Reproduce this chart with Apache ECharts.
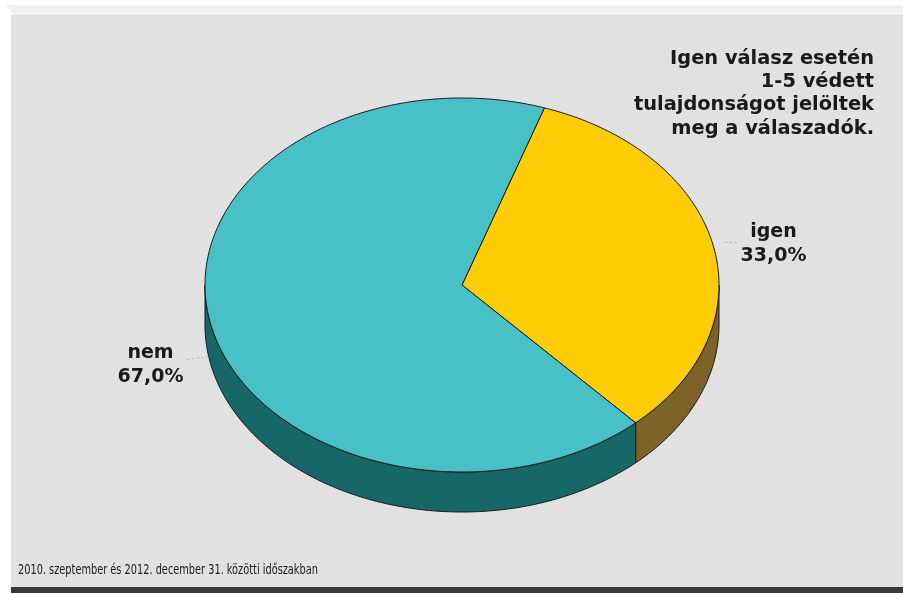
<!DOCTYPE html>
<html>
<head>
<meta charset="utf-8">
<script src="https://cdn.jsdelivr.net/npm/echarts@6/dist/echarts.min.js"></script>
<style>
  html, body { margin: 0; padding: 0; background: #ffffff; }
  #chart { width: 903px; height: 593px; }
</style>
</head>
<body>
<div id="chart"></div>
<script>
// Answer categories and their shares (%)
const categories = ['igen', 'nem'];
const shares = [33.0, 67.0];
// Colours of the top faces and the darker side walls
const topColors = ['#ffcc05', '#47c1c5'];
const sideColors = ['#7c6328', '#156768'];
// Note in the upper right corner and the period caption
const noteLines = ['Igen válasz esetén', '1-5 védett', 'tulajdonságot jelöltek', 'meg a válaszadók.'];
const caption = '2010. szeptember és 2012. december 31. közötti időszakban';

// Geometry of the tilted pie
const CX = 462, CY = 285, RX = 257, RY = 187, DEPTH = 40;
const START_ANGLE = 71.3; // degrees, slices run clockwise from here
// Label offsets from the rim point at each slice's middle angle
const labelOffsets = [[60, -2], [-60, 42]];

const total = shares.reduce((a, b) => a + b, 0);
const starts = [];
let acc = START_ANGLE;
shares.forEach(v => { starts.push(acc); acc -= v / total * 360; });

function rim(tDeg, dy) {
  const t = tDeg * Math.PI / 180;
  return [CX + RX * Math.cos(t), CY - RY * Math.sin(t) + (dy || 0)];
}
function arc(from, to, dy) {
  const pts = [];
  const n = Math.max(2, Math.ceil(Math.abs(from - to) / 1));
  for (let i = 0; i <= n; i++) pts.push(rim(from + (to - from) * i / n, dy));
  return pts;
}
function fmt(v) { return v.toFixed(1).replace('.', ',') + '%'; }

function renderItem(params, api) {
  const i = params.dataIndex;
  const value = api.value(0);
  const a1 = starts[i];
  const a2 = a1 - value / total * 360;
  const children = [];

  // Side wall: the part of the slice that faces the viewer (lower half)
  for (let k = -1; k <= 1; k++) {
    const lo = -180 + 360 * k, hi = 360 * k;
    const s = Math.min(a1, hi), e = Math.max(a2, lo);
    if (s > e) {
      const top = arc(s, e, 0);
      const bottom = arc(e, s, DEPTH);
      children.push({
        type: 'polygon', z2: 1,
        shape: { points: top.concat(bottom) },
        style: { fill: sideColors[i], stroke: '#1b1b1b', lineWidth: 1 }
      });
    }
  }

  // Top face
  children.push({
    type: 'polygon', z2: 5,
    shape: { points: [[CX, CY]].concat(arc(a1, a2, 0)) },
    style: { fill: topColors[i], stroke: '#1b1b1b', lineWidth: 1 }
  });

  // Label with a faint leader line
  const mid = (a1 + a2) / 2;
  const p = rim(mid, 0);
  const off = labelOffsets[i];
  const lx = p[0] + off[0], ly = p[1] + off[1];
  const dir = off[0] > 0 ? -1 : 1;
  const lineStart = [lx + dir * 36, ly + (i === 0 ? -2 : -6)];
  const lineEnd = [lineStart[0] + dir * (i === 0 ? 14 : 22), lineStart[1] + (i === 0 ? 0 : -3)];
  children.push({
    type: 'line', z2: 3,
    shape: { x1: lineStart[0], y1: lineStart[1], x2: lineEnd[0], y2: lineEnd[1] },
    style: { stroke: 'rgba(120,170,200,0.55)', lineWidth: 1, lineDash: [3, 2] }
  });
  children.push({
    type: 'text', z2: 6,
    style: {
      text: categories[i] + '\n' + fmt(value),
      x: lx, y: ly,
      align: 'center', verticalAlign: 'middle',
      font: 'bold 19px "DejaVu Sans", Verdana, sans-serif',
      lineHeight: 24,
      fill: '#1a1a1a'
    }
  });

  return { type: 'group', children: children };
}

const chart = echarts.init(document.getElementById('chart'), null, { renderer: 'canvas' });
chart.setOption({
  animation: false,
  backgroundColor: '#ffffff',
  graphic: [
    // light bevel strip along the top
    { type: 'polygon', z: -10, shape: { points: [[6, 5], [903, 5], [903, 15], [14, 15]] },
      style: { fill: '#eef1f1' } },
    // grey panel
    { type: 'rect', z: -10, shape: { x: 11, y: 15, width: 892, height: 573 },
      style: { fill: '#e1e1e1' } },
    // dark strip along the bottom
    { type: 'rect', z: -10, shape: { x: 11, y: 587, width: 892, height: 6 },
      style: { fill: '#3a3a3a' } },
    {
      type: 'text', z: 10,
      style: {
        text: noteLines.join('\n'), x: 874, y: 47,
        align: 'right', verticalAlign: 'top',
        font: 'bold 19.4px "DejaVu Sans", Verdana, sans-serif',
        lineHeight: 23.3, fill: '#1a1a1a'
      }
    },
    {
      type: 'text', z: 10,
      x: 18, y: 570, scaleX: 0.75,
      style: {
        text: caption, x: 0, y: 0,
        align: 'left', verticalAlign: 'middle',
        font: '14.5px "DejaVu Sans Condensed", "DejaVu Sans", sans-serif',
        fill: '#1a1a1a'
      }
    }
  ],
  series: [{
    type: 'custom',
    coordinateSystem: 'none',
    renderItem: renderItem,
    data: shares.map((v, i) => ({ name: categories[i], value: [v] }))
  }]
});
</script>
</body>
</html>
